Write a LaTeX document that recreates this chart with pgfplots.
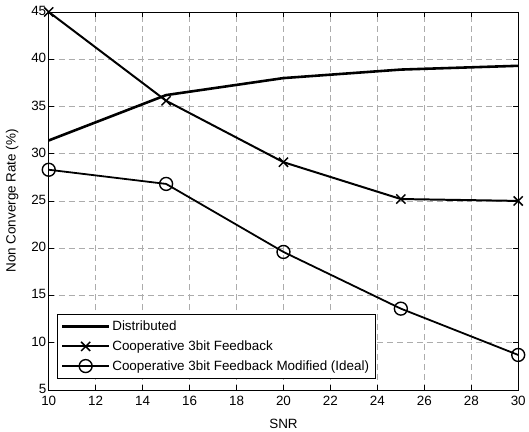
\documentclass[border=0pt]{standalone}
\usepackage{pgfplots}
\pgfplotsset{compat=1.18}
\usepackage{fontspec}
\setmainfont{Liberation Sans}
\begin{document}
\begin{tikzpicture}
\begin{axis}[
  name=main,
  scale only axis,
  width=472pt, height=380pt,
  xmin=10, xmax=30, ymin=5, ymax=45,
  xtick={10,12,...,30}, ytick={5,10,...,45},
  /pgf/number format/assume math mode=true,
  tick label style={font=\fontsize{13.5}{15}\selectfont},
  label style={font=\fontsize{13.5}{15}\selectfont},
  xticklabel style={yshift=-3pt},
  yticklabel style={xshift=1pt, yshift=1pt},
  xlabel={SNR}, ylabel={Non Converge Rate (\%)},
  xlabel style={yshift=-6pt}, ylabel style={yshift=6pt},
  grid=major,
  major grid style={dash pattern=on 6pt off 4pt, gray!65, line width=0.5pt},
  tick align=inside, tick style={black, line width=0.5pt},
  major tick length=5pt,
  axis line style={black, line width=0.6pt},
  legend style={font=\fontsize{13.5}{15}\selectfont, draw=black, line width=0.6pt, fill=white, at={(0.017,0.029)}, anchor=south west, row sep=4.5pt, inner xsep=4pt, inner ysep=5pt},
  legend cell align=left,
  legend image code/.code={\draw[mark repeat=2,mark phase=2,#1] plot coordinates {(0pt,0pt) (23.5pt,0pt) (47pt,0pt)};},
]
\addplot[black, line width=2.6pt, legend image post style={line width=2.6pt}] coordinates {(10,31.4) (15,36.2) (20,38.0) (25,38.9) (30,39.3)};
\addlegendentry{Distributed}
\addplot[black, line width=2pt, mark=x, mark size=6.5pt, mark options={line width=1.5pt, solid}, legend image post style={line width=2pt}] coordinates {(10,45.0) (15,35.6) (20,29.1) (25,25.2) (30,25.0)};
\addlegendentry{Cooperative 3bit Feedback}
\addplot[black, line width=1.8pt, mark=o, mark size=6.5pt, mark options={line width=1.4pt, solid}, legend image post style={line width=1.8pt}] coordinates {(10,28.3) (15,26.8) (20,19.6) (25,13.6) (30,8.7)};
\addlegendentry{Cooperative 3bit Feedback Modified (Ideal)}
\end{axis}
\path (main.south west) ++(-49pt,-41pt) coordinate (bl);
\path (main.north east) ++(8pt,12pt) coordinate (tr);
\useasboundingbox (bl) rectangle (tr);
\end{tikzpicture}
\end{document}
